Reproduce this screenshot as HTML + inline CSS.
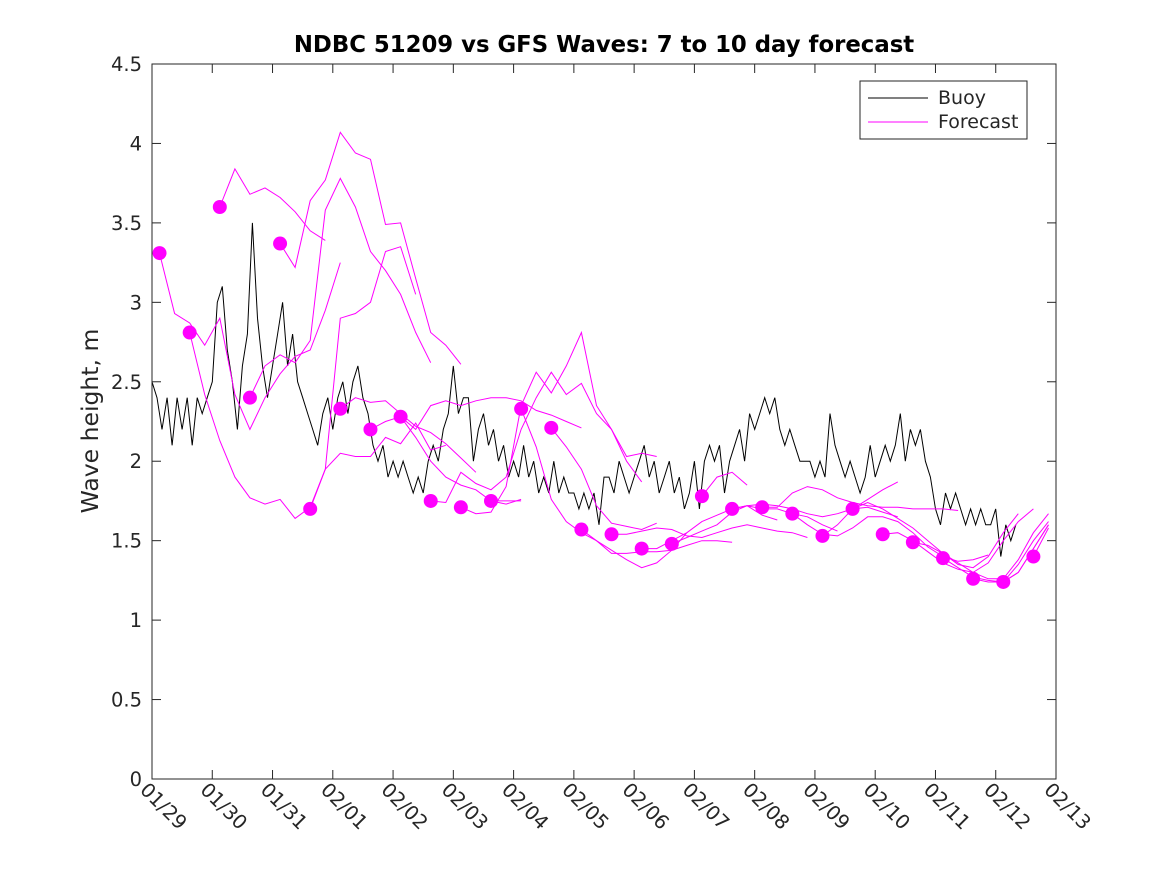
<!DOCTYPE html>
<html><head><meta charset="utf-8"><style>
body{margin:0;background:#fff;}
svg text{font-family:"DejaVu Sans","Liberation Sans",sans-serif;fill:#262626;}
</style></head><body>
<svg id="chart" width="1167" height="875" xmlns="http://www.w3.org/2000/svg">
<rect width="1167" height="875" fill="#fff"/>
<text x="604" y="52" text-anchor="middle" font-size="22.8" font-weight="bold" style="fill:#000">NDBC 51209 vs GFS Waves: 7 to 10 day forecast</text>
<text transform="translate(98,421) rotate(-90)" text-anchor="middle" font-size="23.5">Wave height, m</text>
<g id="plot"></g>
<g id="axes"></g>
<g>
<rect x="860" y="81" width="167" height="58" fill="#fff" stroke="#262626" stroke-width="1"/>
<line x1="868" y1="98" x2="928" y2="98" stroke="#000"/>
<text x="938" y="104" font-size="19">Buoy</text>
<line x1="868" y1="122" x2="928" y2="122" stroke="#ff00ff"/>
<text x="938" y="128" font-size="19">Forecast</text>
</g>
</svg>
<script>
const xTickLabels=["01/29","01/30","01/31","02/01","02/02","02/03","02/04","02/05","02/06","02/07","02/08","02/09","02/10","02/11","02/12","02/13"];
const yTicks=[0,0.5,1,1.5,2,2.5,3,3.5,4,4.5];
const yTickLabels=["0","0.5","1","1.5","2","2.5","3","3.5","4","4.5"];
const buoyStepDays=1/12;
const buoyValues=[2.5,2.4,2.2,2.4,2.1,2.4,2.2,2.4,2.1,2.4,2.3,2.4,2.5,3.0,3.1,2.7,2.5,2.2,2.6,2.8,3.5,2.9,2.6,2.4,2.6,2.8,3.0,2.6,2.8,2.5,
2.4,2.3,2.2,2.1,2.3,2.4,2.2,2.4,2.5,2.3,2.5,2.6,2.4,2.3,2.1,2.0,2.1,1.9,2.0,1.9,2.0,1.9,1.8,1.9,1.8,2.0,2.1,2.0,2.2,2.3,
2.6,2.3,2.4,2.4,2.0,2.2,2.3,2.1,2.2,2.0,2.1,1.9,2.0,1.9,2.1,1.9,2.0,1.8,1.9,1.8,2.0,1.8,1.9,1.8,1.8,1.7,1.8,1.7,1.8,1.6,
1.9,1.9,1.8,2.0,1.9,1.8,1.9,2.0,2.1,1.9,2.0,1.8,1.9,2.0,1.8,1.9,1.7,1.8,2.0,1.7,2.0,2.1,2.0,2.1,1.8,2.0,2.1,2.2,2.0,2.3,
2.2,2.3,2.4,2.3,2.4,2.2,2.1,2.2,2.1,2.0,2.0,2.0,1.9,2.0,1.9,2.3,2.1,2.0,1.9,2.0,1.9,1.8,1.9,2.1,1.9,2.0,2.1,2.0,2.1,2.3,
2.0,2.2,2.1,2.2,2.0,1.9,1.7,1.6,1.8,1.7,1.8,1.7,1.6,1.7,1.6,1.7,1.6,1.6,1.7,1.4,1.6,1.5,1.6];
const forecastStartDays=[0.125,0.625,1.125,1.625,2.125,2.625,3.125,3.625,4.125,4.625,5.125,5.625,6.125,6.625,7.125,7.625,8.125,8.625,9.125,9.625,10.125,10.625,11.125,11.625,12.125,12.625,13.125,13.625,14.125,14.625];
const forecastStepDays=0.25;
const forecastValues=[
[3.31,2.93,2.87,2.73,2.9,2.42,2.2,2.4,2.55,2.66,2.7,2.95,3.25],
[2.81,2.42,2.13,1.9,1.77,1.73,1.76,1.64,1.71,1.95,2.05,2.03,2.03,2.15,2.11,2.24,2.07,2.1],
[3.6,3.84,3.68,3.72,3.66,3.57,3.45,3.39],
[2.4,2.6,2.67,2.62,2.76,3.58,3.78,3.6,3.32,3.2,3.05,2.81,2.62],
[3.37,3.22,3.64,3.77,4.07,3.94,3.9,3.49,3.5,3.15,2.81,2.73,2.61],
[1.7,1.95,2.9,2.93,3.0,3.32,3.35,3.05],
[2.33,2.4,2.37,2.38,2.3,2.22,2.18,2.11,2.02,1.93],
[2.2,2.25,2.28,2.15,2.0,1.9,1.85,1.82,1.75,1.73,1.76],
[2.28,2.2,2.35,2.38,2.35,2.38,2.4,2.4,2.38,2.32,2.29,2.25,2.21],
[1.75,1.74,1.93,1.86,1.82,1.9,2.2,2.4,2.56,2.42,2.49,2.3,2.2,2.03,2.05,2.03],
[1.71,1.67,1.68,1.84,2.35,2.56,2.43,2.6,2.81,2.35,2.2,2.0,1.87],
[1.75,1.75,1.75],
[2.33,2.09,1.76,1.62,1.55,1.5,1.44,1.38,1.33,1.36,1.44,1.55],
[2.21,2.09,1.95,1.72,1.61,1.59,1.57,1.61],
[1.57,1.5,1.42,1.42,1.43,1.43,1.44,1.47,1.5,1.5,1.49],
[1.54,1.54,1.56,1.58,1.57,1.53,1.52,1.55,1.58,1.6,1.58,1.56,1.55,1.52],
[1.45,1.45,1.5,1.55,1.62,1.66,1.7,1.72,1.7,1.7,1.67,1.65,1.6,1.56],
[1.48,1.52,1.56,1.6,1.68,1.72,1.73,1.72,1.7,1.67,1.65,1.67,1.7,1.76,1.82,1.87],
[1.78,1.9,1.93,1.85],
[1.7,1.72,1.66,1.63],
[1.71,1.71,1.8,1.84,1.82,1.77,1.74,1.72,1.71,1.71,1.7,1.7,1.7,1.69],
[1.67,1.6,1.54,1.53,1.58,1.65,1.65,1.62,1.55,1.46,1.4,1.37,1.38,1.41],
[1.53,1.6,1.7,1.74,1.7,1.64,1.58,1.5,1.42,1.35,1.33,1.4,1.55,1.67],
[1.7,1.71,1.68,1.65],
[1.54,1.55,1.5,1.43,1.36,1.32,1.3,1.36,1.5,1.62,1.7],
[1.49,1.47,1.42,1.36,1.3,1.26,1.26,1.38,1.55,1.67],
[1.39,1.33,1.27,1.25,1.24,1.35,1.5,1.62],
[1.26,1.24,1.24,1.3,1.45,1.6],
[1.24,1.3,1.45,1.6],
[1.4,1.58]];

const NS="http://www.w3.org/2000/svg";
const L=152,R=1056,T=64,B=779;
function xs(d){return L+(R-L)*d/15;}
function ys(v){return B-(B-T)*v/4.5;}
function mk(tag,attrs,parent){const e=document.createElementNS(NS,tag);for(const k in attrs)e.setAttribute(k,attrs[k]);parent.appendChild(e);return e;}
const svg=document.getElementById('chart');
const defs=mk('defs',{},svg);
const cp=mk('clipPath',{id:'clip'},defs);
mk('rect',{x:L,y:T,width:R-L,height:B-T},cp);
const plot=document.getElementById('plot');
plot.setAttribute('clip-path','url(#clip)');
let d='';
buoyValues.forEach((v,i)=>{d+=(i?'L':'M')+xs(i*buoyStepDays).toFixed(1)+' '+ys(v).toFixed(1);});
const bl=mk('path',{d:d,fill:'none',stroke:'#000','stroke-width':1},plot);


forecastValues.forEach((vals,j)=>{
  let p='';
  vals.forEach((v,i)=>{p+=(i?'L':'M')+xs(forecastStartDays[j]+i*forecastStepDays).toFixed(1)+' '+ys(v).toFixed(1);});
  const fl=mk('path',{d:p,fill:'none',stroke:'#ff00ff','stroke-width':1},plot);
  
  
});
forecastValues.forEach((vals,j)=>{
  const c=mk('circle',{cx:xs(forecastStartDays[j]),cy:ys(vals[0]),r:7,fill:'#ff00ff'},plot);
  
  
});
const ax=document.getElementById('axes');
mk('rect',{x:L,y:T,width:R-L,height:B-T,fill:'none',stroke:'#262626','stroke-width':1},ax);
yTicks.forEach((v,i)=>{
  const y=ys(v);
  mk('line',{x1:L,y1:y,x2:L+9,y2:y,stroke:'#262626'},ax);
  mk('line',{x1:R,y1:y,x2:R-9,y2:y,stroke:'#262626'},ax);
  const t=mk('text',{x:L-10,y:y+7,'text-anchor':'end','font-size':19.5},ax);
  t.textContent=yTickLabels[i];
  
  
});
xTickLabels.forEach((lab,i)=>{
  const x=xs(i);
  mk('line',{x1:x,y1:B,x2:x,y2:B-9,stroke:'#262626'},ax);
  mk('line',{x1:x,y1:T,x2:x,y2:T+9,stroke:'#262626'},ax);
  const t=mk('text',{transform:'translate('+(x-13)+','+(B+12)+') rotate(45)','font-size':19.5},ax);
  t.textContent=lab;
  
  
});
</script>
</body></html>
